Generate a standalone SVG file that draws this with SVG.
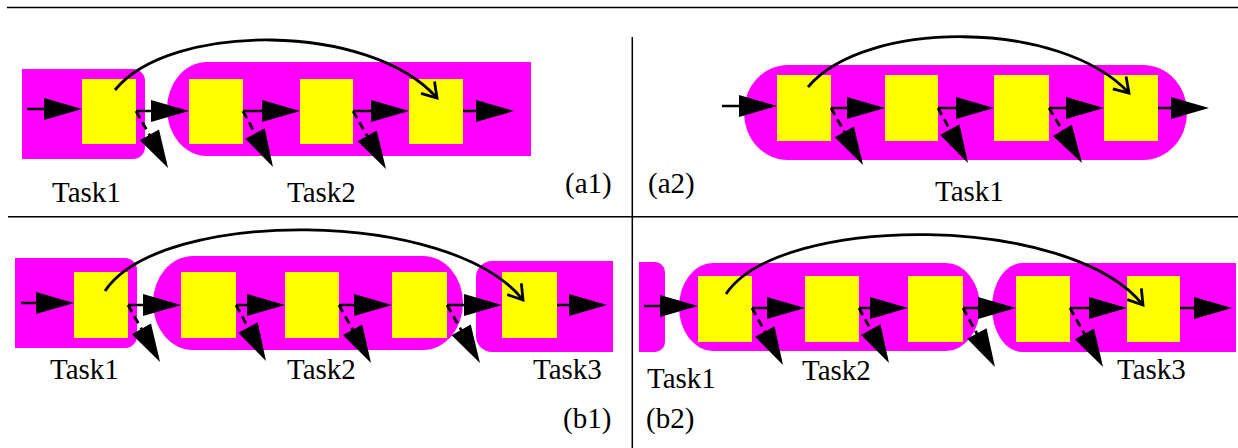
<svg xmlns="http://www.w3.org/2000/svg" width="1238" height="448" viewBox="0 0 1238 448">
<style>
.task{fill:#ff00ff}
.box{fill:#ffff00}
.lbl{font-family:'Liberation Serif',serif;font-size:29px;fill:#000}
.rule{stroke:#000;stroke-width:1.5;fill:none}
.a{stroke:#000;stroke-width:2.6;fill:none;marker-end:url(#ah)}
.d{stroke:#000;stroke-width:2.8;fill:none;stroke-dasharray:8 5;marker-end:url(#ah)}
.c{stroke:#000;stroke-width:2.8;fill:none;marker-end:url(#oh)}
</style>
<defs>
<marker id="ah" markerUnits="userSpaceOnUse" markerWidth="40" markerHeight="24" viewBox="0 0 40 24" refX="33" refY="11" orient="auto" overflow="visible"><path d="M0,0 L38,11 L0,22 Z" fill="#000"/></marker>
<marker id="oh" markerUnits="userSpaceOnUse" markerWidth="20" markerHeight="20" viewBox="-2 -2 20 20" refX="14" refY="9" orient="auto" overflow="visible"><path d="M0,0 L14,9 L0,18" fill="none" stroke="#000" stroke-width="2.8"/></marker>
</defs>
<g id="table">
<line class="rule" x1="7" y1="7.5" x2="1238" y2="7.5"/>
<line class="rule" x1="8" y1="216.7" x2="1238" y2="216.7"/>
<line class="rule" x1="632.3" y1="37" x2="632.3" y2="448"/>
</g>
<g font-family="Liberation Serif, serif">
<!-- panel a1 -->
<g id="a1-task1"><path class="task" d="M22,69 H133 A12,12 0 0 1 145,81 V147 A12,12 0 0 1 133,159 H22 Z"/><text class="lbl" x="52" y="202">Task1</text></g>
<g id="a1-task2"><path class="task" d="M207,62 H531 V156 H207 A40,47 0 0 1 167,109 A40,47 0 0 1 207,62 Z"/><text class="lbl" x="287" y="202">Task2</text></g>
<g id="a1-b1"><rect class="box" x="82" y="79" width="54" height="65"/></g>
<g id="a1-b2"><rect class="box" x="189" y="79" width="54" height="65"/></g>
<g id="a1-b3"><rect class="box" x="300" y="79" width="53" height="65"/></g>
<g id="a1-b4"><rect class="box" x="409" y="79" width="54" height="65"/></g>
<g id="a1-caption"><text class="lbl" x="565" y="193">(a1)</text></g>
<!-- panel a2 -->
<g id="a2-task1"><rect class="task" x="744" y="65" width="443" height="95" rx="44" ry="47"/><text class="lbl" x="935" y="201">Task1</text></g>
<g id="a2-b1"><rect class="box" x="777" y="75" width="54" height="66"/></g>
<g id="a2-b2"><rect class="box" x="885" y="75" width="53" height="66"/></g>
<g id="a2-b3"><rect class="box" x="994" y="75" width="55" height="66"/></g>
<g id="a2-b4"><rect class="box" x="1104" y="75" width="54" height="66"/></g>
<g id="a2-caption"><text class="lbl" x="648" y="193">(a2)</text></g>
<!-- panel b1 -->
<g id="b1-task1"><path class="task" d="M15,258 H125 A12,12 0 0 1 137,270 V336 A12,12 0 0 1 125,348 H15 Z"/><text class="lbl" x="50" y="379">Task1</text></g>
<g id="b1-task2"><rect class="task" x="153" y="256" width="310" height="94" rx="40" ry="47"/><text class="lbl" x="287" y="379">Task2</text></g>
<g id="b1-task3"><path class="task" d="M492,261 H613 V352 H492 A16,16 0 0 1 476,336 V277 A16,16 0 0 1 492,261 Z"/><text class="lbl" x="533" y="379">Task3</text></g>
<g id="b1-b1"><rect class="box" x="74" y="272" width="54" height="66"/></g>
<g id="b1-b2"><rect class="box" x="181" y="272" width="55" height="66"/></g>
<g id="b1-b3"><rect class="box" x="285" y="272" width="54" height="66"/></g>
<g id="b1-b4"><rect class="box" x="392" y="272" width="55" height="66"/></g>
<g id="b1-b5"><rect class="box" x="502" y="272" width="55" height="66"/></g>
<g id="b1-caption"><text class="lbl" x="563" y="428">(b1)</text></g>
<!-- panel b2 -->
<g id="b2-task1"><path class="task" d="M639,262 H655 A10,10 0 0 1 665,272 V342 A10,10 0 0 1 655,352 H639 Z"/><text class="lbl" x="647" y="388">Task1</text></g>
<g id="b2-task2"><rect class="task" x="679" y="263" width="301" height="88" rx="34" ry="44"/><text class="lbl" x="802" y="380">Task2</text></g>
<g id="b2-task3"><path class="task" d="M1022,263 H1236 V352 H1022 A30,44.5 0 0 1 992,307.5 A30,44.5 0 0 1 1022,263 Z"/><text class="lbl" x="1117" y="379">Task3</text></g>
<g id="b2-b1"><rect class="box" x="698" y="276" width="54" height="66"/></g>
<g id="b2-b2"><rect class="box" x="805" y="276" width="54" height="66"/></g>
<g id="b2-b3"><rect class="box" x="908" y="276" width="55" height="66"/></g>
<g id="b2-b4"><rect class="box" x="1016" y="276" width="54" height="66"/></g>
<g id="b2-b5"><rect class="box" x="1127" y="276" width="53" height="66"/></g>
<g id="b2-caption"><text class="lbl" x="646" y="428">(b2)</text></g>
</g>
<g id="connectors">
<!-- a1 -->
<line class="a" x1="27" y1="109" x2="77" y2="109"/>
<line class="a" x1="136" y1="111" x2="184" y2="111"/>
<line class="a" x1="243" y1="111" x2="295" y2="111"/>
<line class="a" x1="353" y1="111" x2="404" y2="111"/>
<line class="a" x1="463" y1="111" x2="509" y2="111"/>
<line class="d" x1="136" y1="111" x2="165.6" y2="163.6"/>
<line class="d" x1="243" y1="111" x2="270.6" y2="162.6"/>
<line class="d" x1="353" y1="111" x2="383.5" y2="164.6"/>
<path class="c" d="M115,90 C170,22 370,22 437,98"/>
<!-- a2 -->
<line class="a" x1="722" y1="106" x2="772" y2="106"/>
<line class="a" x1="831" y1="108" x2="880" y2="108"/>
<line class="a" x1="938" y1="108" x2="989" y2="108"/>
<line class="a" x1="1049" y1="108" x2="1099" y2="108"/>
<line class="a" x1="1158" y1="108" x2="1204" y2="108"/>
<line class="d" x1="831" y1="108" x2="860.6" y2="160.6"/>
<line class="d" x1="938" y1="108" x2="965.6" y2="158.6"/>
<line class="d" x1="1049" y1="108" x2="1079.4" y2="158.7"/>
<path class="c" d="M808,87 C865,19 1060,19 1129,93"/>
<!-- b1 -->
<line class="a" x1="21" y1="303" x2="69" y2="303"/>
<line class="a" x1="128" y1="305" x2="176" y2="305"/>
<line class="a" x1="236" y1="305" x2="280" y2="305"/>
<line class="a" x1="339" y1="305" x2="387" y2="305"/>
<line class="a" x1="447" y1="305" x2="497" y2="305"/>
<line class="a" x1="557" y1="305" x2="602" y2="305"/>
<line class="d" x1="128" y1="305" x2="157.6" y2="357.6"/>
<line class="d" x1="236" y1="305" x2="263.6" y2="356.6"/>
<line class="d" x1="339" y1="305" x2="368.6" y2="358.6"/>
<line class="d" x1="447" y1="305" x2="477.5" y2="358.6"/>
<path class="c" d="M105,291 C160,208 450,208 523,300"/>
<!-- b2 -->
<line class="a" x1="644" y1="306" x2="693" y2="306"/>
<line class="a" x1="752" y1="308" x2="800" y2="308"/>
<line class="a" x1="859" y1="308" x2="903" y2="308"/>
<line class="a" x1="963" y1="308" x2="1011" y2="308"/>
<line class="a" x1="1070" y1="308" x2="1122" y2="308"/>
<line class="a" x1="1180" y1="308" x2="1227" y2="308"/>
<line class="d" x1="752" y1="308" x2="780.6" y2="360.6"/>
<line class="d" x1="859" y1="308" x2="886.6" y2="358.6"/>
<line class="d" x1="963" y1="308" x2="992.6" y2="362.6"/>
<line class="d" x1="1070" y1="308" x2="1100.6" y2="362.6"/>
<path class="c" d="M726,294 C780,213 1070,213 1143,305"/>
</g>
</svg>
